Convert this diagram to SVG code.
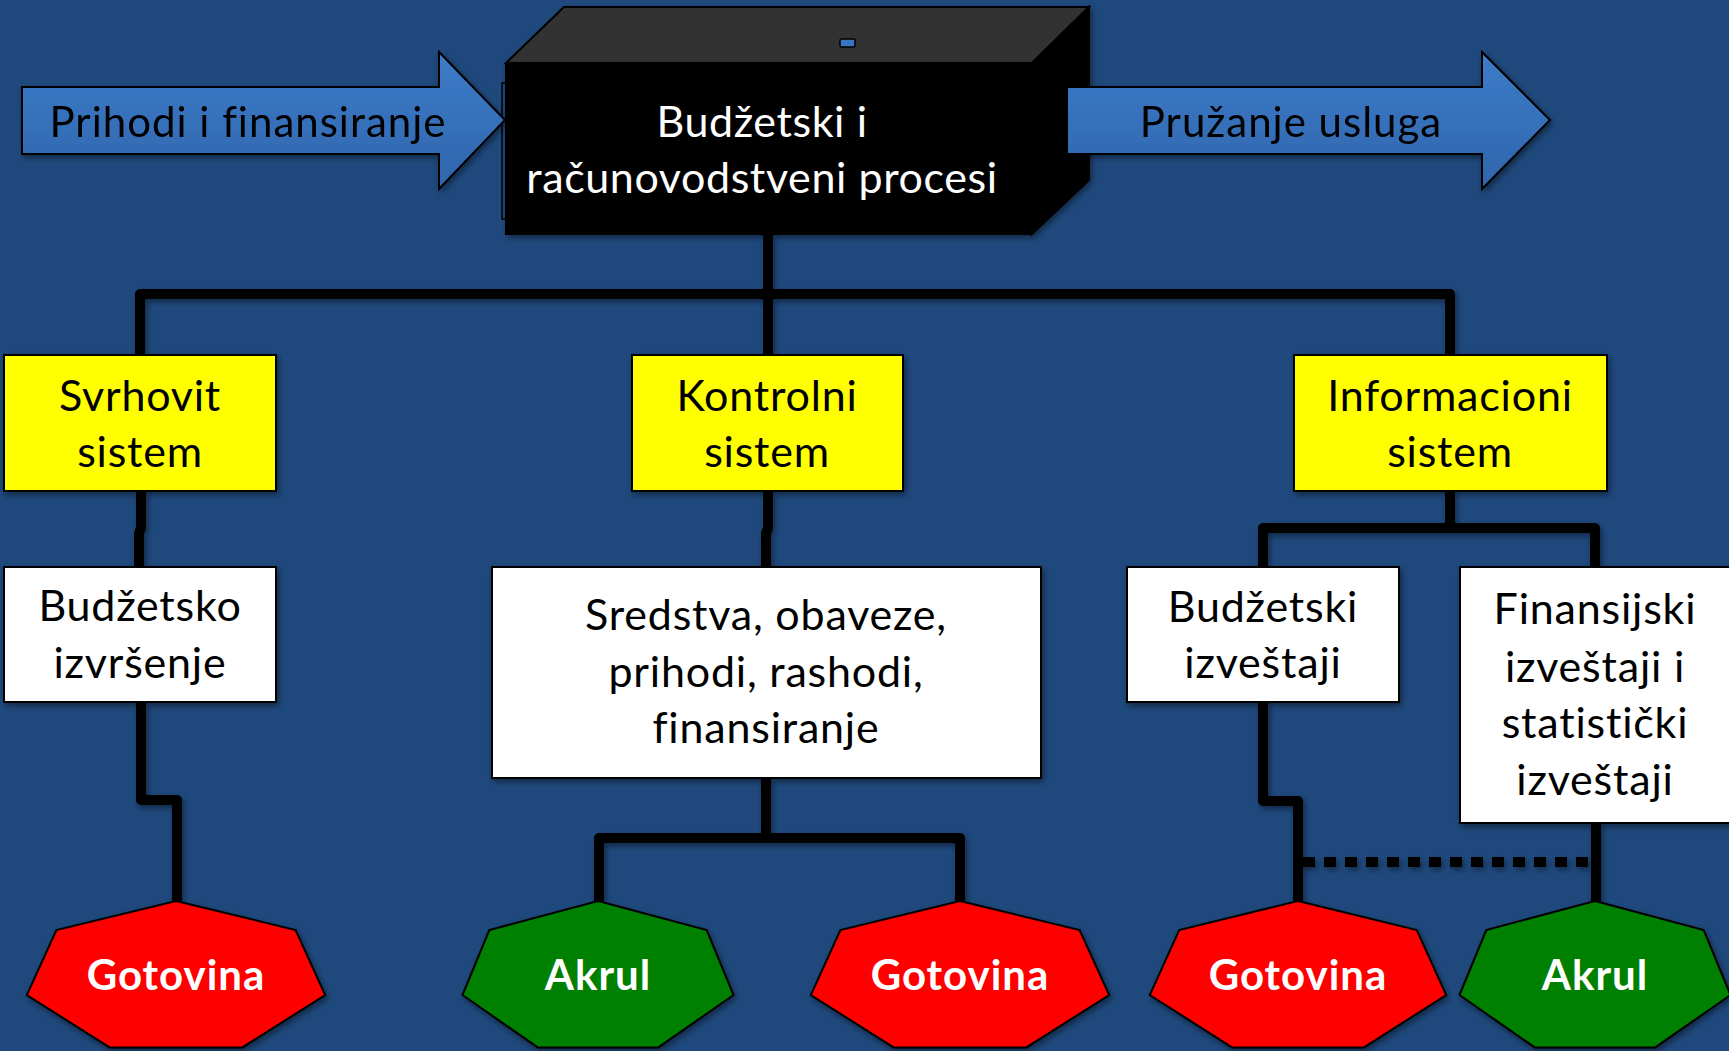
<svg xmlns="http://www.w3.org/2000/svg" width="1729" height="1051" viewBox="0 0 1729 1051">
<defs>
<linearGradient id="blueGrad" x1="0" y1="0" x2="0" y2="1">
<stop offset="0" stop-color="#3D7CC9"/>
<stop offset="1" stop-color="#2F65AC"/>
</linearGradient>
<filter id="sh" x="-10%" y="-10%" width="130%" height="130%">
<feDropShadow dx="2" dy="3" stdDeviation="3" flood-color="#000" flood-opacity="0.45"/>
</filter>
</defs>
<style>
.t{font-family:Lato,"Open Sans","Liberation Sans",sans-serif;text-anchor:middle}
.dark{fill:#000;font-size:43px;letter-spacing:0.8px}
.white{fill:#fff;font-size:43px;letter-spacing:0.6px}
.bold{fill:#fff;font-size:42px;font-weight:bold;letter-spacing:1px}
.arrowtxt{fill:#000;font-size:42px;letter-spacing:1px}
.box{stroke:#000;stroke-width:2}
.yel{fill:#FFFF00}
.wht{fill:#FFFFFF}
.red{fill:#FF0000;stroke:#000;stroke-width:2}
.grn{fill:#008000;stroke:#000;stroke-width:2}
.arrow{fill:url(#blueGrad);stroke:#000;stroke-width:2;stroke-linejoin:miter}
.ln{fill:none;stroke:#000;stroke-width:10;stroke-linejoin:round;stroke-linecap:butt}
.dot{fill:none;stroke:#000;stroke-width:10;stroke-dasharray:12 9}
</style>
<rect x="0" y="0" width="1729" height="1051" fill="#1F497D"/>

<g id="connectors" filter="url(#sh)">
<path class="ln" d="M768,235 V294"/>
<path class="ln" d="M140,355 V294 H1450 V355"/>
<path class="ln" d="M768,294 V355"/>
<path class="ln" d="M141,491 V528 L139,533 V567"/>
<path class="ln" d="M768,491 V528 L766,533 V567"/>
<path class="ln" d="M141,702 V800 H177 V901"/>
<path class="ln" d="M766,778 V838"/>
<path class="ln" d="M599,901 V838 H960 V901"/>
<path class="ln" d="M1450,491 V528"/>
<path class="ln" d="M1263,567 V528 H1595 V567"/>
<path class="ln" d="M1263,702 V801 H1298 V901"/>
<path class="ln" d="M1596,823 V901"/>
<path class="dot" d="M1303,862 H1596"/>
</g>

<g id="process">
<rect x="502" y="83" width="20" height="136" fill="none" stroke="#000" stroke-width="1.5"/>
<g filter="url(#sh)">
<polygon points="506,63 564,7 1089,7 1032,63" fill="#333333" stroke="#000" stroke-width="2"/>
<polygon points="1032,63 1089,7 1089,180 1032,234" fill="#000" stroke="#000" stroke-width="2"/>
<rect x="506" y="63" width="526" height="171" fill="#000" stroke="#000" stroke-width="2"/>
</g>
<rect x="840" y="39" width="15" height="8" rx="1.5" fill="#3A75C1" stroke="#000" stroke-width="1.5"/>
<text class="t white" x="762" y="137">Budžetski i</text>
<text class="t white" x="762" y="193">računovodstveni procesi</text>
</g>

<g id="arrow-in" filter="url(#sh)">
<path class="arrow" d="M22,87 L439,87 L439,52 L505,120 L439,189 L439,154 L22,154 Z"/>
<text class="t arrowtxt" x="248" y="137">Prihodi i finansiranje</text>
</g>

<g id="arrow-out" filter="url(#sh)">
<path class="arrow" d="M1067,87 L1482,87 L1482,52 L1550,120 L1482,189 L1482,154 L1067,154 Z"/>
<text class="t arrowtxt" x="1291" y="137">Pružanje usluga</text>
</g>

<g id="svrhovit">
<rect class="box yel" x="4" y="355" width="272" height="136" filter="url(#sh)"/>
<text class="t dark" x="140" y="411">Svrhovit</text>
<text class="t dark" x="140" y="467">sistem</text>
</g>

<g id="kontrolni">
<rect class="box yel" x="632" y="355" width="271" height="136" filter="url(#sh)"/>
<text class="t dark" x="767" y="411">Kontrolni</text>
<text class="t dark" x="767" y="467">sistem</text>
</g>

<g id="informacioni">
<rect class="box yel" x="1294" y="355" width="313" height="136" filter="url(#sh)"/>
<text class="t dark" x="1450" y="411">Informacioni</text>
<text class="t dark" x="1450" y="467">sistem</text>
</g>

<g id="budzetsko">
<rect class="box wht" x="4" y="567" width="272" height="135" filter="url(#sh)"/>
<text class="t dark" x="140" y="621">Budžetsko</text>
<text class="t dark" x="140" y="678">izvršenje</text>
</g>

<g id="sredstva">
<rect class="box wht" x="492" y="567" width="549" height="211" filter="url(#sh)"/>
<text class="t dark" x="766" y="630">Sredstva, obaveze,</text>
<text class="t dark" x="766" y="687">prihodi, rashodi,</text>
<text class="t dark" x="766" y="743">finansiranje</text>
</g>

<g id="budzetski-izvestaji">
<rect class="box wht" x="1127" y="567" width="272" height="135" filter="url(#sh)"/>
<text class="t dark" x="1263" y="622">Budžetski</text>
<text class="t dark" x="1263" y="678">izveštaji</text>
</g>

<g id="finansijski">
<rect class="box wht" x="1460" y="567" width="280" height="256" filter="url(#sh)"/>
<text class="t dark" x="1595" y="624">Finansijski</text>
<text class="t dark" x="1595" y="682">izveštaji i</text>
<text class="t dark" x="1595" y="738">statistički</text>
<text class="t dark" x="1595" y="795">izveštaji</text>
</g>

<g id="gotovina1">
<polygon class="red" filter="url(#sh)" points="176,901 295.6,930 325.2,995 242.4,1047.4 109.6,1047.4 26.8,995 56.4,930"/>
<text class="t bold" x="176" y="990">Gotovina</text>
</g>

<g id="akrul1">
<polygon class="grn" filter="url(#sh)" points="598,901 706.7,930 733.5,995 658.3,1047.4 537.7,1047.4 462.5,995 489.3,930"/>
<text class="t bold" x="598" y="990">Akrul</text>
</g>

<g id="gotovina2">
<polygon class="red" filter="url(#sh)" points="960,901 1079.6,930 1109.2,995 1026.4,1047.4 893.6,1047.4 810.8,995 840.4,930"/>
<text class="t bold" x="960" y="990">Gotovina</text>
</g>

<g id="gotovina3">
<polygon class="red" filter="url(#sh)" points="1298,901 1416.8,930 1446.2,995 1364,1047.4 1232,1047.4 1149.8,995 1179.2,930"/>
<text class="t bold" x="1298" y="990">Gotovina</text>
</g>

<g id="akrul2">
<polygon class="grn" filter="url(#sh)" points="1595,901 1703.7,930 1730.5,995 1655.3,1047.4 1534.7,1047.4 1459.5,995 1486.3,930"/>
<text class="t bold" x="1595" y="990">Akrul</text>
</g>
</svg>
